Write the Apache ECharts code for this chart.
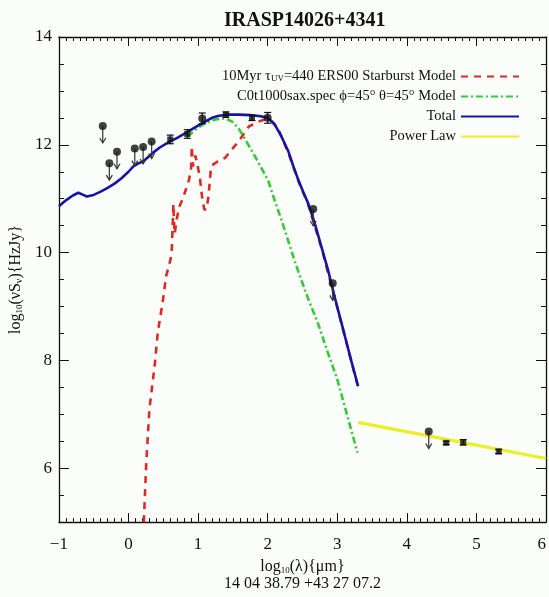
<!DOCTYPE html>
<html><head><meta charset="utf-8">
<script src="https://cdn.jsdelivr.net/npm/echarts@6/dist/echarts.min.js"></script>
<style>html,body{margin:0;padding:0;background:#fbfdfb;}#c{width:549px;height:597px;}</style>
</head><body><div id="c"></div>
<script>
// ---- data (log10 lambda [um], log10 nuSnu) ----
const totalX = [-1,-0.9,-0.8,-0.72,-0.65,-0.6,-0.5,-0.4,-0.3,-0.2,-0.1,0,0.07,0.15,0.21,0.28,0.35,0.45,0.59,0.7,0.825,0.95,1.06,1.2,1.3,1.45,1.585,1.75,1.9,2.0,2.1,2.2,2.3,2.37,2.44,2.51,2.58,2.675,2.77,2.865,2.96,3.1,3.2,3.3];
const totalY = [10.86,10.97,11.06,11.11,11.07,11.04,11.07,11.13,11.2,11.28,11.38,11.5,11.6,11.66,11.69,11.77,11.85,11.95,12.06,12.13,12.22,12.32,12.4,12.5,12.54,12.56,12.56,12.55,12.53,12.5,12.38,12.15,11.87,11.6,11.35,11.13,10.92,10.55,10.12,9.69,9.19,8.5,8.0,7.52];
const agnX = [0.85,0.95,1.1,1.25,1.39,1.49,1.585,1.7,1.82,1.96,2.01,2.1,2.2,2.3,2.39,2.44,2.58,2.72,2.85,3.0,3.15,3.29];
const agnY = [12.15,12.27,12.4,12.47,12.49,12.43,12.3,12.05,11.78,11.45,11.33,10.97,10.6,10.2,9.84,9.65,9.15,8.7,8.2,7.65,6.95,6.29];
const sbX = [0.22,0.256,0.3,0.375,0.42,0.49,0.54,0.6,0.62,0.635,0.645,0.655,0.665,0.69,0.73,0.78,0.825,0.87,0.9,0.91,0.925,0.96,0.99,1.03,1.06,1.09,1.12,1.15,1.18,1.2,1.28,1.39,1.49,1.585,1.73,1.87,1.96,2.05,2.15,2.3,2.44,2.58,2.77,2.96,3.3];
const sbY = [5.0,6.11,7.09,7.89,8.51,9.07,9.56,9.85,10.0,10.5,10.9,10.55,10.35,10.6,10.85,11.0,11.17,11.35,11.57,11.97,11.6,11.8,11.65,11.35,11.0,10.8,10.8,11.05,11.5,11.62,11.69,11.76,11.92,12.07,12.34,12.43,12.47,12.45,12.3,11.84,11.33,10.9,10.1,9.18,7.5];
const plawX = [3.3,6.0];
const plawY = [6.85,6.18];
// upper limits (circle with arrow)
const limX = [-0.37,-0.275,-0.165,0.09,0.21,0.333,2.655,2.935,4.315];
const limY = [12.35,11.66,11.87,11.93,11.96,12.06,10.81,9.43,6.68];
// detections shown as squares with error bars
const sqX = [0.6,0.845,1.4,1.775,4.566,4.81,5.32];
const sqY = [12.1,12.2,12.56,12.5,6.47,6.48,6.31];
const sqErr = [0.08,0.08,0.05,0.05,0.03,0.05,0.04];
// detections shown as circles with error bars
const cdX = [1.06,2.0];
const cdY = [12.49,12.5];
const cdErr = [0.1,0.1];
// ticks
const xMin = -1, xMax = 6, yMin = 5, yMax = 14;
const yMajor = [6,8,10,12,14];

const zip = (a,b) => a.map((v,i)=>[v,b[i]]);
const zip3 = (a,b,c) => a.map((v,i)=>[v,b[i],c[i]]);
const FONT = 'Liberation Serif';

const arrowRender = (params, api) => {
  const p = api.coord([api.value(0), api.value(1)]);
  return {type:'group', children:[
    {type:'line', shape:{x1:p[0],y1:p[1],x2:p[0],y2:p[1]+17}, style:{stroke:'#333',lineWidth:1.2}},
    {type:'polyline', shape:{points:[[p[0]-3,p[1]+12],[p[0],p[1]+17],[p[0]+3,p[1]+12]]}, style:{stroke:'#333',fill:null,lineWidth:1.2}}
  ]};
};
const errRender = (params, api) => {
  const x = api.value(0), y = api.value(1), e = api.value(2);
  const hi = api.coord([x, y+e]), lo = api.coord([x, y-e]);
  const st = {stroke:'#111', lineWidth:1.2};
  return {type:'group', children:[
    {type:'line', shape:{x1:hi[0],y1:hi[1],x2:lo[0],y2:lo[1]}, style:st},
    {type:'line', shape:{x1:hi[0]-3.5,y1:hi[1],x2:hi[0]+3.5,y2:hi[1]}, style:st},
    {type:'line', shape:{x1:lo[0]-3.5,y1:lo[1],x2:lo[0]+3.5,y2:lo[1]}, style:st}
  ]};
};

const axisLine = {show:true, onZero:false, lineStyle:{color:'#111', width:1.3}};
const noLine = {show:false, onZero:false};
const tick = len => ({show:true, inside:true, length:len, lineStyle:{color:'#111', width:1}});
const lbl = {fontFamily:FONT, fontSize:17, color:'#111'};
const fmtNum = v => v < 0 ? '\u2212' + Math.abs(v) : String(v);

const chart = echarts.init(document.getElementById('c'));
chart.setOption({
  backgroundColor:'#fbfdfb',
  animation:false,
  title:{text:'IRASP14026+4341', left:219, top:6, textStyle:{fontFamily:FONT, fontSize:20, fontWeight:'bold', color:'#111'}},
  grid:{left:51, right:1, top:37, bottom:74},
  legend:{
    data:['sb','agn','tot','pl'],
    orient:'vertical', align:'right', right:24, top:64,
    itemWidth:58, itemHeight:14, itemGap:5,
    itemStyle:{opacity:0},
    formatter: n => ({
      sb:'10Myr \u03c4{s|UV}=440 ERS00 Starburst Model',
      agn:'C0t1000sax.spec \u03d5=45\u00b0 \u03b8=45\u00b0 Model',
      tot:'Total', pl:'Power Law'})[n],
    textStyle:{fontFamily:FONT, fontSize:14.5, color:'#111', lineHeight:14,
      rich:{s:{fontFamily:FONT, fontSize:9, verticalAlign:'bottom', padding:[6,0,0,0], color:'#111'}}}
  },
  xAxis:[
    {type:'value', min:xMin, max:xMax, interval:1, position:'bottom',
     axisLine, splitLine:{show:false},
     axisTick:tick(9),
     minorTick:{show:true, splitNumber:10, length:4, lineStyle:{color:'#111', width:1}},
     axisLabel:{...lbl, margin:14, formatter:fmtNum, alignMaxLabel:'right'},
     name:'log{s|10}(\u03bb){\u03bcm}\n14 04 38.79 +43 27 07.2',
     nameLocation:'middle', nameGap:34,
     nameTextStyle:{fontFamily:FONT, fontSize:16, color:'#111', lineHeight:17,
       rich:{s:{fontFamily:FONT, fontSize:9, verticalAlign:'bottom', padding:[7,0,0,0], color:'#111'}}}},
    {type:'value', min:xMin, max:xMax, interval:1, position:'top',
     axisLine, splitLine:{show:false}, axisLabel:{show:false},
     axisTick:tick(9),
     minorTick:{show:true, splitNumber:10, length:4, lineStyle:{color:'#111', width:1}}}
  ],
  yAxis:[
    {type:'value', min:yMin, max:yMax, interval:0.5, position:'left',
     axisLine, splitLine:{show:false},
     axisTick:tick(5),
     axisLabel:{...lbl, margin:7, formatter: v => (yMajor.indexOf(v) >= 0 ? String(v) : '')},
     name:'log{s|10}(\u03bdS{t|\u03bd}){HzJy}', nameLocation:'middle', nameRotate:90, nameGap:25,
     nameTextStyle:{fontFamily:FONT, fontSize:16, color:'#111',
       rich:{s:{fontFamily:FONT, fontSize:9, verticalAlign:'bottom', padding:[7,0,0,0], color:'#111'},
             t:{fontFamily:FONT, fontSize:10, verticalAlign:'bottom', padding:[6,0,0,0], color:'#111'}}}},
    {type:'value', min:yMin, max:yMax, interval:0.5, position:'right',
     axisLine, splitLine:{show:false}, axisLabel:{show:false},
     axisTick:tick(5)},
    {type:'value', min:yMin, max:yMax, interval:0.5, position:'left',
     axisLine:noLine, splitLine:{show:false}, axisLabel:{show:false},
     axisTick:{...tick(10), customValues:yMajor}},
    {type:'value', min:yMin, max:yMax, interval:0.5, position:'right',
     axisLine:noLine, splitLine:{show:false}, axisLabel:{show:false},
     axisTick:{...tick(10), customValues:yMajor}}
  ],
  series:[
    {name:'sb', type:'line', data:zip(sbX,sbY), showSymbol:false, symbol:'none', clip:true,
     lineStyle:{color:'#dd2a22', width:2.6, type:[7,6]}, itemStyle:{color:'#dd2a22'}, z:2},
    {name:'agn', type:'line', data:zip(agnX,agnY), showSymbol:false, symbol:'none', clip:true,
     lineStyle:{color:'#33cc33', width:2.6, type:[7,3,2,3]}, itemStyle:{color:'#33cc33'}, z:3},
    {name:'tot', type:'line', data:zip(totalX,totalY), showSymbol:false, symbol:'none', clip:true,
     lineStyle:{color:'#1414a8', width:2.6}, itemStyle:{color:'#1414a8'}, z:4},
    {name:'pl', type:'line', data:zip(plawX,plawY), showSymbol:false, symbol:'none', clip:true,
     lineStyle:{color:'#eeee22', width:3.2}, itemStyle:{color:'#eeee22'}, z:4},
    {name:'limArrows', type:'custom', data:zip(limX,limY), renderItem:arrowRender, encode:{x:0,y:1}, z:6},
    {name:'limPts', type:'scatter', data:zip(limX,limY), symbol:'circle', symbolSize:8, itemStyle:{color:'#111'}, z:7},
    {name:'sqErr', type:'custom', data:zip3(sqX,sqY,sqErr), renderItem:errRender, encode:{x:0,y:1}, z:6},
    {name:'sqPts', type:'scatter', data:zip(sqX,sqY), symbol:'rect', symbolSize:6, itemStyle:{color:'#111'}, z:7},
    {name:'cdErr', type:'custom', data:zip3(cdX,cdY,cdErr), renderItem:errRender, encode:{x:0,y:1}, z:6},
    {name:'cdPts', type:'scatter', data:zip(cdX,cdY), symbol:'circle', symbolSize:8, itemStyle:{color:'#111'}, z:7}
  ]
});
</script></body></html>
